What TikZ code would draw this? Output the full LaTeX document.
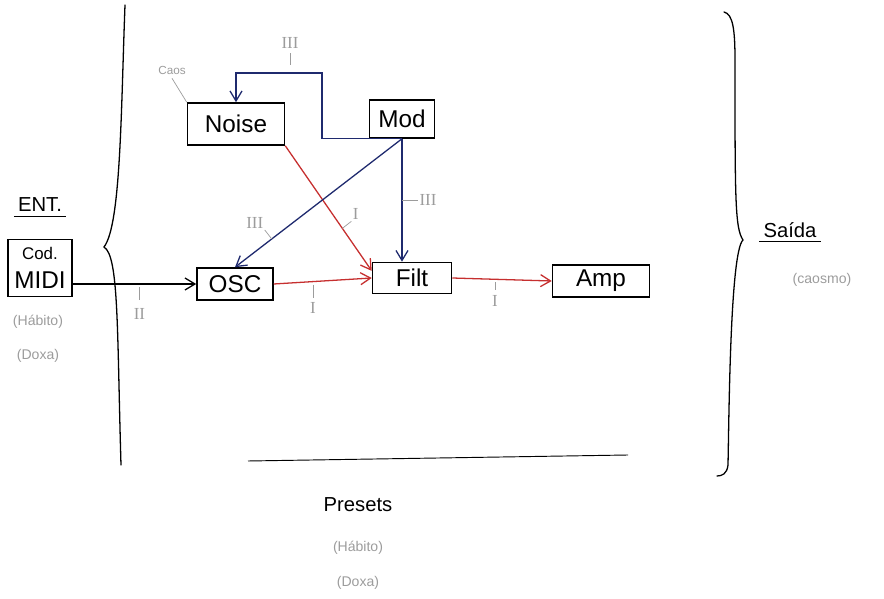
\documentclass[tikz,border=0pt]{standalone}
\usepackage{fontspec}
\setmainfont{Liberation Sans}
\newfontfamily\tagfont{Liberation Serif}
\usetikzlibrary{positioning,arrows.meta}

\definecolor{inkblue}{HTML}{1F2A6E}
\definecolor{inkred}{HTML}{C62F2F}
\definecolor{pencil}{HTML}{9C9C9C}

\begin{document}
\begin{tikzpicture}[
    x=0.03cm, y=-0.03cm,
    box/.style={draw, line width=1.3pt, inner sep=0pt, align=center, font=\huge},
    flow/.style={-{Straight Barb[length=3mm, width=3.6mm]}, line width=1.1pt},
    redflow/.style={flow, draw=inkred},
    blueflow/.style={flow, draw=inkblue},
    tick/.style={draw=pencil, line width=0.6pt},
    tag/.style={text=pencil, font=\tagfont\Large, inner sep=1pt},
    note/.style={text=pencil, font=\large},
    title/.style={font=\LARGE},
    bracket/.style={line width=1.1pt, line cap=round},
  ]
  \useasboundingbox (0,0) rectangle (884,599);

  % Braces around the synth
  \draw[bracket] (125,5) .. controls (121,110) and (121,225) .. (104,247)
                 .. controls (119,256) and (117,330) .. (121,465);
  \draw[bracket] (724,12) .. controls (733,14) and (735,30) .. (735,60)
                 .. controls (735,200) and (735,228) .. (743,240)
                 .. controls (730,252) and (729,420) .. (728,465)
                 .. controls (727,474) and (722,476) .. (717,476);

  % Input side
  \node[title] (ent) at (40,205) {ENT.};
  \node[box, minimum width=1.92cm, minimum height=1.71cm] (midi) at (40,268) {{\Large Cod.}\\ MIDI};
  \node[note] (habIn) at (38,322) {(Hábito)};
  \node[note] (doxIn) at (38,356) {(Doxa)};

  % Synth modules
  \node[box, minimum width=2.91cm, minimum height=1.26cm] (noise) at (236,124) {Noise};
  \node[box, minimum width=1.95cm, minimum height=1.14cm] (mod)   at (402,119) {Mod};
  \node[box, minimum width=2.28cm, minimum height=0.96cm] (osc)   at (235,284) {OSC};
  \node[box, minimum width=2.37cm, minimum height=0.93cm] (filt)  at (412,278) {Filt};
  \node[box, minimum width=2.91cm, minimum height=0.96cm] (amp)   at (601,281) {Amp};
  \node[note, font=\normalsize] (caos) at (172,70) {Caos};
  \coordinate (loop) at (322,73);

  % Output side
  \node[title] (saida) at (790,230) {Saída};
  \node[note] (caosmo) at (822,280) {(caosmo)};

  % Presets below
  \coordinate (preL) at (248,461);
  \coordinate (preR) at (628,455);
  \node[title] (presets) at (358,505) {Presets};
  \node[note] (habOut) at (358,548) {(Hábito)};
  \node[note] (doxOut) at (358,583) {(Doxa)};

  % Underlines
  \draw[line width=0.8pt] (ent.south west) -- (ent.south east);
  \draw[line width=0.8pt] (saida.south west) -- (saida.south east);
  \draw[line width=0.8pt] (preL) -- (preR);
  \draw[tick] (caos.south) -- (noise.north west);

  % Signal flow
  \draw[flow] (midi.east |- osc.west) -- (osc.west) coordinate[pos=0.54] (t1);
  \draw[redflow] (osc.east) -- (filt.west) coordinate[pos=0.4] (t2);
  \draw[redflow] (filt.east) -- (amp.west) coordinate[pos=0.43] (t3);
  \draw[redflow] (noise.south east) -- (filt.170) coordinate[pos=0.66] (t4);

  % Modulation
  \draw[blueflow] (mod.south) -- (osc.north) coordinate[pos=0.78] (t5);
  \draw[blueflow] (mod.south) -- (mod.south |- filt.north) coordinate[pos=0.5] (t6);
  \draw[blueflow] (mod.south) -| (loop) -| (noise.north);

  % Level marks
  \draw[tick] (t1) ++(0,3) -- ++(0,13) node[tag, below=2mm] {II};
  \draw[tick] (t2) ++(0,3) -- ++(0,13) node[tag, below=1mm] {I};
  \draw[tick] (t3) ++(0,3) -- ++(0,8) node[tag, below=1mm] {I};
  \draw[tick] (t4) -- ++(9,-7) node[tag, above right=0pt] {I};
  \draw[tick] (t5) -- ++(-7,-9) node[tag, above left=0pt] {III};
  \draw[tick] (t6) -- ++(16,0) node[tag, right=0pt] {III};
  \draw[tick] (loop) ++(-32,-8) -- ++(0,-12) node[tag, above=1mm] {III};

\end{tikzpicture}
\end{document}
